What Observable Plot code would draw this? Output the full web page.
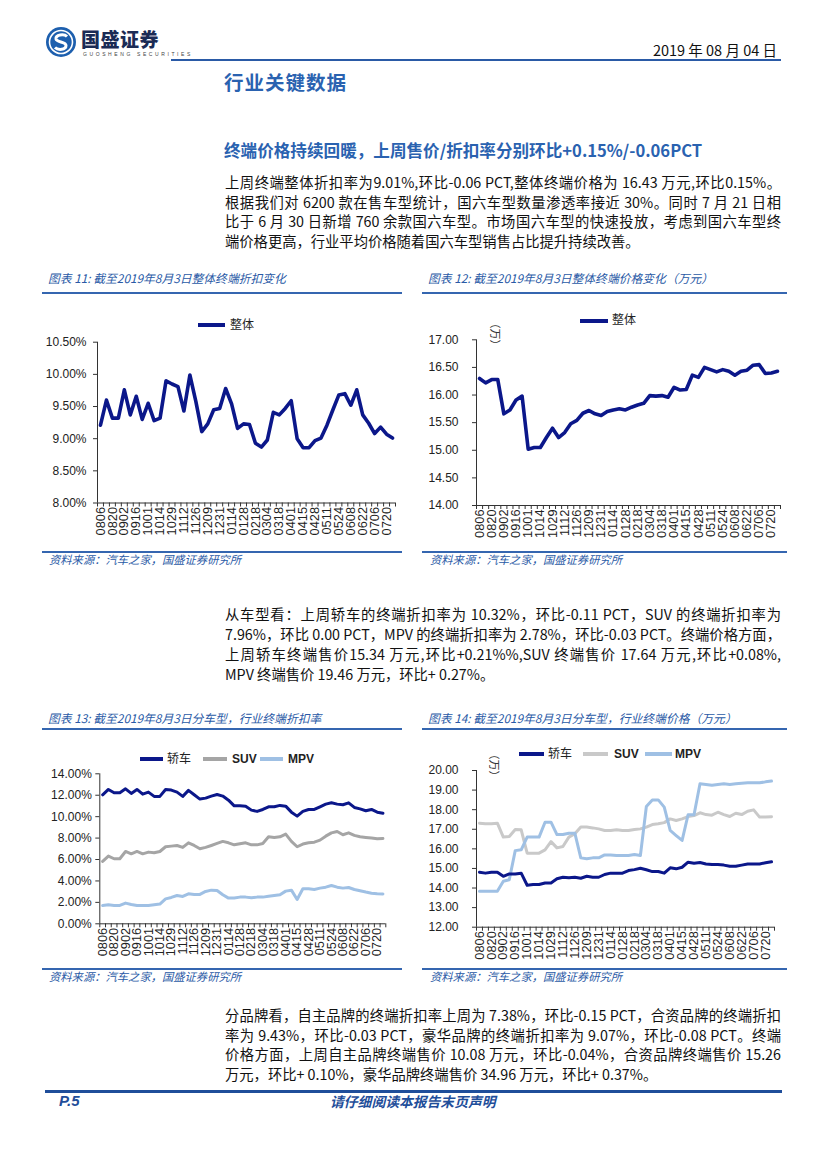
<!DOCTYPE html>
<html><head><meta charset="utf-8">
<script src="https://cdn.jsdelivr.net/npm/d3@7"></script>
<script src="https://cdn.jsdelivr.net/npm/@observablehq/plot@0.6"></script>
<style>
body{margin:0;background:#fff;}
#page{position:relative;width:827px;height:1170px;overflow:hidden;font-family:"Noto Sans CJK SC","Noto Sans",sans-serif;background:#fff;}
.abs{position:absolute;white-space:nowrap;}
.tl{position:absolute;left:225px;width:556px;font-size:14.3px;line-height:19.5px;height:19.5px;white-space:nowrap;color:#111;text-align:left;}
.cap{position:absolute;font-size:11.8px;font-style:italic;color:#2a5aa6;line-height:14px;white-space:nowrap;}
.hr{position:absolute;height:1.5px;background:#3566b0;}
.leg{position:absolute;font-size:12px;line-height:14px;color:#222;white-space:nowrap;font-family:"Liberation Sans","Noto Sans CJK SC",sans-serif;}
.sw{position:absolute;height:4px;}
.chart{position:absolute;}
.wan{position:absolute;font-size:11px;color:#333;transform:rotate(90deg);transform-origin:center;white-space:nowrap;}
</style></head>
<body><div id="page"></div>
<script>
// ---------- data ----------
const dates = ["0806","0820","0902","0916","1001","1014","1029","1112","1126","1209","1231","0114","0128","0218","0304","0318","0401","0415","0428","0511","0524","0608","0622","0706","0720"];
// Fig 11: overall discount rate (%)
const discountAll = [9.21,9.60,9.32,9.32,9.76,9.37,9.66,9.30,9.55,9.28,
  9.32,9.90,9.85,9.81,9.43,9.99,9.58,9.11,9.23,9.45,
  9.47,9.78,9.54,9.16,9.23,9.22,8.93,8.87,8.98,9.41,
  9.37,9.47,9.59,9.00,8.86,8.86,8.97,9.01,9.21,9.45,
  9.68,9.70,9.52,9.76,9.37,9.24,9.08,9.18,9.07,9.01];
// Fig 12: overall price (10k RMB)
const priceAll = [16.30,16.22,16.28,16.28,15.66,15.73,15.91,15.98,15.02,15.05,
  15.05,15.23,15.40,15.23,15.32,15.48,15.54,15.67,15.72,15.66,
  15.63,15.70,15.73,15.75,15.73,15.78,15.82,15.85,15.99,15.98,
  15.99,15.96,16.14,16.09,16.10,16.36,16.32,16.50,16.46,16.42,
  16.46,16.43,16.36,16.43,16.45,16.54,16.55,16.39,16.40,16.43];
// Fig 13: discount rate by body type (%)
const discSedan = [12.04,12.54,12.23,12.23,12.60,12.17,12.54,12.10,12.29,11.89,
  11.89,12.54,12.48,12.29,11.89,12.45,12.04,11.64,11.73,11.92,
  12.07,11.92,11.54,11.01,11.01,10.98,10.61,10.49,10.67,10.92,
  10.92,11.05,10.98,10.42,10.05,10.49,10.67,10.67,10.92,11.17,
  11.29,11.17,11.11,11.29,10.86,10.73,10.55,10.67,10.42,10.32];
const discSUV = [5.82,6.32,6.07,6.07,6.75,6.53,6.75,6.53,6.69,6.63,
  6.75,7.19,7.25,7.31,7.13,7.56,7.31,7.00,7.13,7.31,
  7.50,7.69,7.56,7.37,7.47,7.56,7.37,7.37,7.50,8.12,
  8.06,8.12,8.37,7.69,7.19,7.44,7.56,7.62,7.81,8.18,
  8.49,8.62,8.31,8.49,8.25,8.12,8.06,8.00,7.93,7.96];
const discMPV = [1.71,1.77,1.71,1.71,1.93,1.80,1.71,1.71,1.71,1.77,
  1.84,2.33,2.46,2.64,2.55,2.80,2.74,2.74,3.02,3.14,
  3.11,2.71,2.40,2.40,2.49,2.49,2.43,2.49,2.49,2.58,
  2.64,2.71,3.05,3.14,2.27,3.27,3.27,3.20,3.33,3.42,
  3.58,3.42,3.33,3.39,3.20,3.08,2.96,2.86,2.81,2.78];
// Fig 14: price by body type (10k RMB)
const priceSedan = [14.81,14.76,14.81,14.81,14.60,14.72,14.72,14.76,14.14,14.18,
  14.18,14.26,14.26,14.47,14.55,14.52,14.55,14.50,14.60,14.55,
  14.55,14.69,14.76,14.76,14.76,14.89,14.94,15.01,14.93,14.84,
  14.84,14.76,15.03,14.98,15.06,15.32,15.27,15.30,15.23,15.20,
  15.20,15.17,15.11,15.11,15.17,15.23,15.23,15.23,15.29,15.34];
const priceSUV = [17.31,17.28,17.28,17.31,16.60,16.63,16.99,16.97,15.78,15.78,
  15.78,15.95,16.37,16.05,16.12,16.60,16.77,17.11,17.11,17.07,
  17.02,16.94,16.94,16.97,16.94,16.94,16.99,17.02,17.11,17.24,
  17.28,17.34,17.53,17.45,17.53,17.65,17.70,17.84,17.75,17.72,
  17.87,17.75,17.65,17.82,17.75,17.92,17.99,17.62,17.62,17.64];
const priceMPV = [13.84,13.84,13.84,13.84,14.35,14.42,15.91,15.95,16.60,16.60,
  16.60,17.36,17.36,16.73,16.73,16.80,16.80,15.54,15.49,15.54,
  15.54,15.69,15.69,15.66,15.66,15.66,15.71,15.66,18.16,18.50,
  18.50,18.13,16.94,16.68,16.43,17.74,17.74,19.32,19.29,19.25,
  19.29,19.32,19.29,19.32,19.35,19.37,19.37,19.37,19.42,19.46];

const para1 = [
 "上周终端整体折扣率为9.01%,环比-0.06 PCT,整体终端价格为 16.43 万元,环比0.15%。",
 "根据我们对 6200 款在售车型统计，国六车型数量渗透率接近 30%。同时 7 月 21 日相",
 "比于 6 月 30 日新增 760 余款国六车型。市场国六车型的快速投放，考虑到国六车型终",
 "端价格更高，行业平均价格随着国六车型销售占比提升持续改善。"];
const para2 = [
 "从车型看：上周轿车的终端折扣率为 10.32%，环比-0.11 PCT，SUV 的终端折扣率为",
 "7.96%，环比 0.00 PCT，MPV 的终端折扣率为 2.78%，环比-0.03 PCT。终端价格方面，",
 "上周轿车终端售价15.34 万元,环比+0.21%%,SUV 终端售价 17.64 万元,环比+0.08%,",
 "MPV 终端售价 19.46 万元，环比+ 0.27%。"];
const para3 = [
 "分品牌看，自主品牌的终端折扣率上周为 7.38%，环比-0.15 PCT，合资品牌的终端折扣",
 "率为 9.43%，环比-0.03 PCT，豪华品牌的终端折扣率为 9.07%，环比-0.08 PCT。终端",
 "价格方面，上周自主品牌终端售价 10.08 万元，环比-0.04%，合资品牌终端售价 15.26",
 "万元，环比+ 0.10%，豪华品牌终端售价 34.96 万元，环比+ 0.37%。"];

const NAVY = "#0b178a", GRAY13 = "#a5a5a5", GRAY14 = "#c9c9c9", LBLUE = "#9fc0e4", TBLUE = "#2a5aa6";

// ---------- page helpers ----------
const page = document.getElementById("page");
function el(tag, cls, css, html) {
  const e = document.createElement(tag);
  if (cls) e.className = cls;
  Object.assign(e.style, css || {});
  if (html != null) e.innerHTML = html;
  page.appendChild(e);
  return e;
}
// header
el("div", "abs", {left:"45px", top:"26px", width:"32px", height:"32px"},
 `<svg width="32" height="32" viewBox="0 0 32 32"><circle cx="16" cy="16" r="15" fill="#1d5fae"/><circle cx="16" cy="16" r="11.5" fill="none" stroke="#fff" stroke-width="1.6"/><path d="M22 10.5 C19 7.5 10.5 8.5 11 13 C11.5 16.5 21 15.5 21 19.5 C21 24 13 24.5 10 21.5" fill="none" stroke="#fff" stroke-width="3"/></svg>`);
el("div", "abs", {left:"81px", top:"27px", fontSize:"19px", fontWeight:"900", color:"#1b2b55", letterSpacing:"0.5px", lineHeight:"24px"}, "国盛证券");
el("div", "abs", {left:"83px", top:"51px", fontSize:"5px", letterSpacing:"2.6px", color:"#444", lineHeight:"6px", fontFamily:"Liberation Sans"}, "GUOSHENG SECURITIES");
el("div", "abs", {right:"50px", top:"40px", fontSize:"14.5px", color:"#111", lineHeight:"20px"}, "2019 年 08 月 04 日");
el("div", "abs", {left:"171px", top:"59px", width:"610px", height:"2px", background:"#2a5aa6"});
el("div", "abs", {left:"224px", top:"70px", fontSize:"19.5px", fontWeight:"700", color:"#2a62b0", lineHeight:"24px", letterSpacing:"1px"}, "行业关键数据");
el("div", "abs", {left:"224px", top:"138px", fontSize:"16.6px", fontWeight:"700", color:"#2a62b0", lineHeight:"24px"}, "终端价格持续回暖，上周售价/折扣率分别环比+0.15%/-0.06PCT");

const textLines = [];
function para(lines, centers) {
  lines.forEach((t, k) => {
    const d = el("div", "tl", {top:(centers[k] - 9.75) + "px"}, t);
    d.dataset.last = (k === lines.length - 1) ? "1" : "0";
    textLines.push(d);
  });
}
para(para1, [182, 201.5, 221, 240.5]);
para(para2, [614, 634, 654, 674]);
para(para3, [1015, 1034.5, 1054, 1073.5]);

// captions / rules / sources
el("div", "cap", {left:"48px", top:"271px"}, "图表 11:  截至2019年8月3日整体终端折扣变化");
el("div", "cap", {left:"428px", top:"271px"}, "图表 12:  截至2019年8月3日整体终端价格变化（万元）");
el("div", "hr", {left:"42px", top:"292px", width:"360px"});
el("div", "hr", {left:"422px", top:"292px", width:"365px"});
el("div", "hr", {left:"42px", top:"551px", width:"360px"});
el("div", "hr", {left:"422px", top:"551px", width:"365px"});
el("div", "cap", {left:"49px", top:"552px", fontSize:"11.3px"}, "资料来源：汽车之家，国盛证券研究所");
el("div", "cap", {left:"430px", top:"552px", fontSize:"11.3px"}, "资料来源：汽车之家，国盛证券研究所");

el("div", "cap", {left:"48px", top:"711px"}, "图表 13:  截至2019年8月3日分车型，行业终端折扣率");
el("div", "cap", {left:"428px", top:"711px"}, "图表 14:  截至2019年8月3日分车型，行业终端价格（万元）");
el("div", "hr", {left:"42px", top:"728px", width:"360px"});
el("div", "hr", {left:"422px", top:"728px", width:"365px"});
el("div", "hr", {left:"42px", top:"968px", width:"360px"});
el("div", "hr", {left:"422px", top:"968px", width:"365px"});
el("div", "cap", {left:"49px", top:"969px", fontSize:"11.3px"}, "资料来源：汽车之家，国盛证券研究所");
el("div", "cap", {left:"430px", top:"969px", fontSize:"11.3px"}, "资料来源：汽车之家，国盛证券研究所");

// footer
el("div", "abs", {left:"45px", top:"1090px", width:"737px", height:"3px", background:"#1f4e9a"});
el("div", "abs", {left:"59px", top:"1091px", fontSize:"15px", fontWeight:"700", fontStyle:"italic", color:"#1f4e9a", lineHeight:"20px", fontFamily:"Liberation Sans"}, "P.5");
el("div", "abs", {left:"330px", top:"1091px", fontSize:"13.8px", fontWeight:"700", fontStyle:"italic", color:"#1f4e9a", lineHeight:"20px"}, "请仔细阅读本报告末页声明");

// legends
function legend(items, cy) {
  items.forEach(it => {
    el("div", "sw", {left: it.x0 + "px", width: (it.x1 - it.x0) + "px", top: (cy - it.w / 2) + "px", height: it.w + "px", background: it.color});
    el("div", "leg", {left: it.tx + "px", top: (cy - 7.5) + "px", fontWeight: it.bold ? "700" : "400"}, it.label);
  });
}
legend([{label:"整体", color:NAVY, w:4, x0:198, x1:225, tx:230}], 325);
legend([{label:"整体", color:NAVY, w:4, x0:580, x1:608, tx:612}], 320.5);
legend([{label:"轿车", color:NAVY, w:3.5, x0:140, x1:163, tx:167},
        {label:"SUV", color:GRAY13, w:3.5, x0:203, x1:227, tx:232, bold:true},
        {label:"MPV", color:LBLUE, w:3.5, x0:260, x1:283, tx:288, bold:true}], 759);
legend([{label:"轿车", color:NAVY, w:3.5, x0:519, x1:544, tx:548},
        {label:"SUV", color:GRAY14, w:3.5, x0:583, x1:608, tx:614, bold:true},
        {label:"MPV", color:LBLUE, w:3.5, x0:645, x1:672, tx:675, bold:true}], 754);
el("div", "wan", {left:"479px", top:"326px"}, "（万）");
el("div", "wan", {left:"478px", top:"757px"}, "（万）");

// ---------- charts ----------
const N = discountAll.length;
const bounds = d3.range(N + 1).map(i => i - 0.5);
const labelIdx = dates.map((d, k) => 2 * k);

function chart({left, top, width, height, ml, mr, mt, mb, yDomain, yTicks, fmt, padY, series}) {
  const p = Plot.plot({
    width, height,
    marginLeft: ml, marginRight: mr, marginTop: mt, marginBottom: mb,
    x: {type: "linear", domain: [-0.5, N - 0.5]},
    y: {domain: yDomain},
    style: {fontFamily: "'Liberation Sans', Arial, sans-serif", fontSize: "12px", color: "#222", background: "transparent", overflow: "visible"},
    marks: [
      Plot.ruleX([-0.5], {stroke: "#333", strokeWidth: 1}),
      Plot.ruleY([yDomain[0]], {stroke: "#333", strokeWidth: 1}),
      Plot.axisY({ticks: yTicks, tickFormat: fmt, tickSize: 4, tickPadding: padY, label: null, stroke: "#333"}),
      Plot.axisX({ticks: bounds, tickSize: 4, tickFormat: () => "", label: null, stroke: "#333"}),
      Plot.axisX({ticks: labelIdx, tickSize: 0, tickPadding: 4, tickRotate: -90, tickFormat: i => dates[i / 2], label: null, fontSize: 12.8}),
      ...series.map(s => Plot.line(s.values, {x: (d, i) => i, y: d => d, stroke: s.color, strokeWidth: s.w, strokeLinejoin: "round", strokeLinecap: "round"}))
    ]
  });
  const wrap = el("div", "chart", {left: left + "px", top: top + "px"});
  wrap.appendChild(p);
}

chart({left: 40, top: 335, width: 365, height: 210, ml: 57, mr: 10, mt: 6.7, mb: 42.5,
  yDomain: [8, 10.5], yTicks: [8, 8.5, 9, 9.5, 10, 10.5], fmt: d => d.toFixed(2) + "%", padY: 7,
  series: [{values: discountAll, color: NAVY, w: 3.6}]});

chart({left: 420, top: 330, width: 370, height: 215, ml: 56, mr: 10, mt: 9.3, mb: 40,
  yDomain: [14, 17], yTicks: [14, 14.5, 15, 15.5, 16, 16.5, 17], fmt: d => d.toFixed(2), padY: 14,
  series: [{values: priceAll, color: NAVY, w: 3.6}]});

chart({left: 40, top: 765, width: 365, height: 200, ml: 59.3, mr: 19.7, mt: 8.3, mb: 41.7,
  yDomain: [0, 14], yTicks: [0, 2, 4, 6, 8, 10, 12, 14], fmt: d => d.toFixed(2) + "%", padY: 4,
  series: [{values: discMPV, color: LBLUE, w: 3}, {values: discSUV, color: GRAY13, w: 3}, {values: discSedan, color: NAVY, w: 3}]});

chart({left: 420, top: 760, width: 370, height: 205, ml: 56, mr: 16, mt: 10, mb: 38.3,
  yDomain: [12, 20], yTicks: [12, 13, 14, 15, 16, 17, 18, 19, 20], fmt: d => d.toFixed(2), padY: 14,
  series: [{values: priceSUV, color: GRAY14, w: 3}, {values: priceMPV, color: LBLUE, w: 3}, {values: priceSedan, color: NAVY, w: 3}]});

// ---------- justify text lines ----------
function fit() {
  const W = 556;
  textLines.forEach(d => {
    d.style.textAlign = "left"; d.style.textAlignLast = "auto"; d.style.transform = "";
    const r = document.createRange(); r.selectNodeContents(d);
    const w = r.getBoundingClientRect().width;
    if (w > W) {
      d.style.transformOrigin = "left center";
      d.style.transform = `scaleX(${W / w})`;
    } else if (d.dataset.last !== "1") {
      d.style.textAlign = "justify"; d.style.textAlignLast = "justify";
    }
  });
}
fit();
if (document.fonts && document.fonts.ready) document.fonts.ready.then(fit);
</script>
</body></html>
